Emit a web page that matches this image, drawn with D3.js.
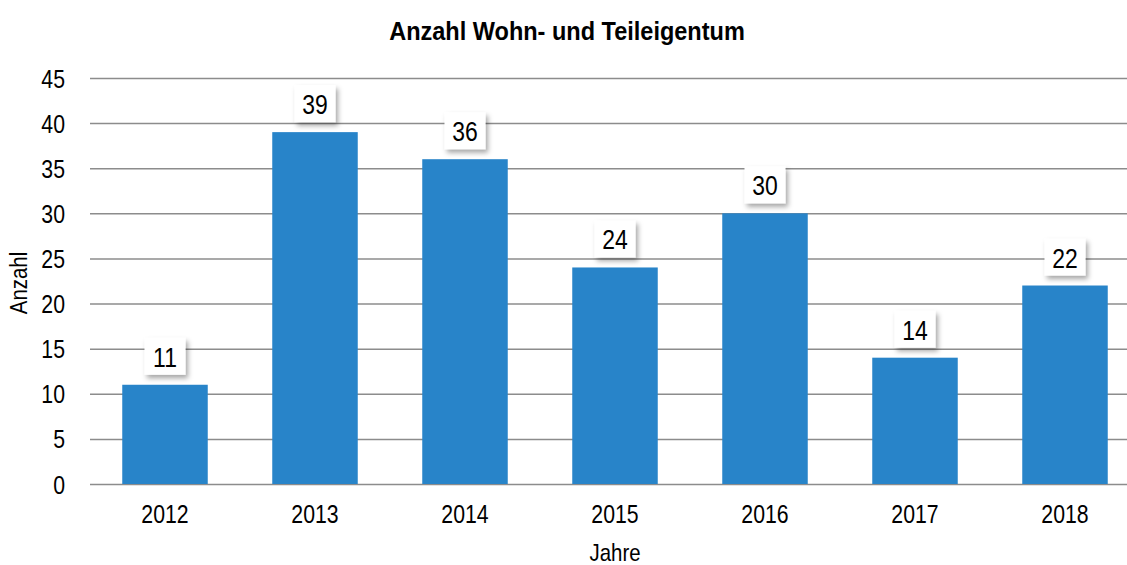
<!DOCTYPE html>
<html>
<head>
<meta charset="utf-8">
<script src="https://cdn.jsdelivr.net/npm/d3@7"></script>
<style>
  html, body { margin: 0; padding: 0; background: #fff; }
  svg { display: block; }
  text { font-family: "Liberation Sans", Arial, sans-serif; fill: #000; }
</style>
</head>
<body>
<svg id="chart" width="1127" height="565"></svg>
<script>
const years = ["2012", "2013", "2014", "2015", "2016", "2017", "2018"];
const counts = [11, 39, 36, 24, 30, 14, 22];
const yTicks = [0, 5, 10, 15, 20, 25, 30, 35, 40, 45];
const titleText = "Anzahl Wohn- und Teileigentum";
const xTitle = "Jahre";
const yTitle = "Anzahl";

const svg = d3.select("#chart");
const W = 1127, H = 565;
const plot = { left: 90, right: 1140, top: 78, bottom: 484 };
const narrow = "scale(0.85,1)";   // condensed letterforms

const x = d3.scaleBand().domain(years).range([plot.left, plot.right]).paddingInner(0.43).paddingOuter(0.215);
const y = d3.scaleLinear().domain([0, 45]).range([plot.bottom, plot.top]);

// drop shadow for the value labels
const defs = svg.append("defs");
const f = defs.append("filter").attr("id", "shadow").attr("x", "-30%").attr("y", "-30%").attr("width", "170%").attr("height", "170%");
f.append("feDropShadow").attr("dx", 2.5).attr("dy", 3.5).attr("stdDeviation", 2.5).attr("flood-color", "#000").attr("flood-opacity", 0.35);

function label(px, py, str, size, opts = {}) {
  const g = svg.append("g").attr("transform", `translate(${px},${py})${opts.rotate ? " rotate(" + opts.rotate + ")" : ""}`);
  g.append("text").attr("transform", opts.scale || narrow).attr("text-anchor", "middle")
    .style("font-size", size + "px").style("font-weight", opts.bold ? "bold" : "normal").text(str);
  return g;
}

// title
label(567, 40, titleText, 24, { bold: true, scale: "scale(0.98,1.05)" });

// gridlines
svg.append("g").selectAll("line").data(yTicks).join("line")
  .attr("x1", plot.left).attr("x2", W)
  .attr("y1", d => y(d) + 0.5).attr("y2", d => y(d) + 0.5)
  .attr("stroke", "#8c8c8c").attr("stroke-width", 1.5);

// y axis labels
const yAxis = d3.axisLeft(y).tickValues(yTicks).tickSize(0).tickPadding(0);
const ya = svg.append("g").attr("transform", `translate(${plot.left - 25},0)`).call(yAxis);
ya.select(".domain").remove();
ya.selectAll("text").style("font-size", "25px").style("font-family", null)
  .attr("dy", "0.36em").attr("transform", narrow);

// bars
svg.append("g").selectAll("rect").data(years).join("rect")
  .attr("x", d => x(d)).attr("width", x.bandwidth())
  .attr("y", (d, i) => y(counts[i])).attr("height", (d, i) => y(0) - y(counts[i]))
  .attr("fill", "#2884c9");

// x axis labels
const xAxis = d3.axisBottom(x).tickSize(0).tickPadding(0);
const xa = svg.append("g").attr("transform", `translate(0,${plot.bottom + 30})`).call(xAxis);
xa.select(".domain").remove();
xa.selectAll("text").style("font-size", "25px").style("font-family", null)
  .attr("y", 0).attr("dy", "0.36em").attr("transform", narrow);

// value labels in white boxes
const lbl = svg.append("g").selectAll("g").data(years).join("g")
  .attr("transform", (d, i) => `translate(${x(d) + x.bandwidth() / 2},${y(counts[i]) - 10})`);
lbl.append("rect").attr("x", -20.5).attr("y", -37).attr("width", 41).attr("height", 37)
  .attr("fill", "#fff").attr("filter", "url(#shadow)");
lbl.append("text").attr("y", -8).attr("text-anchor", "middle").attr("transform", narrow)
  .style("font-size", "27px").text((d, i) => counts[i]);

// axis titles
label(615, 561, xTitle, 24);
label(27, 283, yTitle, 24, { rotate: -90 });
</script>
</body>
</html>
